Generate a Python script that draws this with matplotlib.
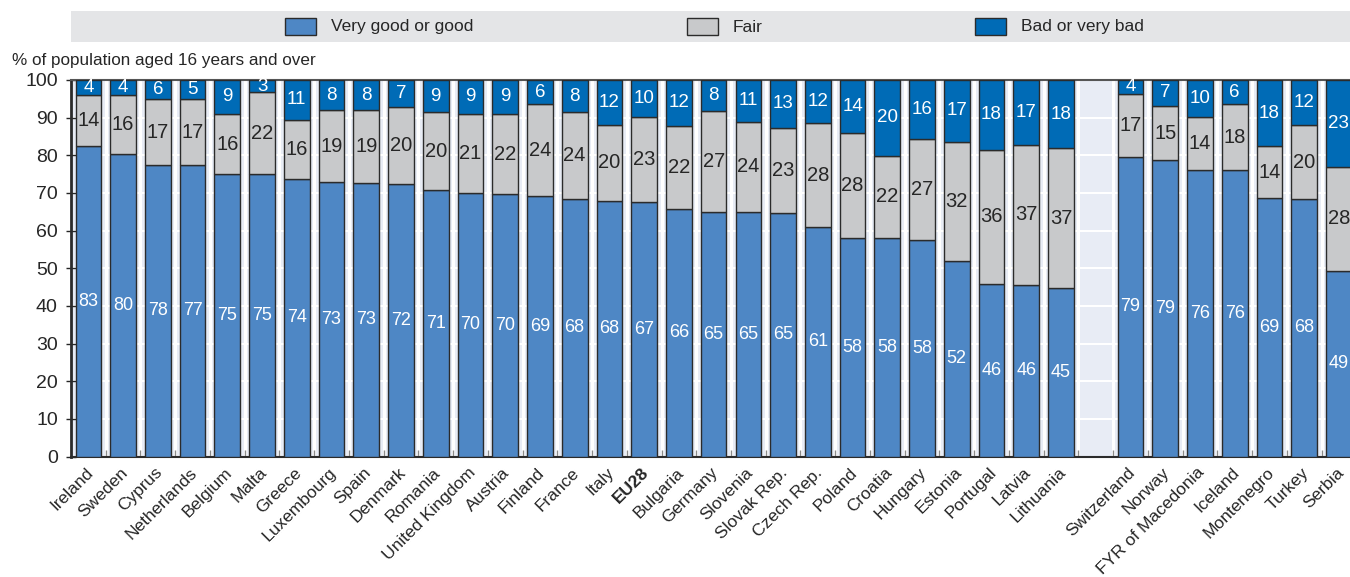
import matplotlib
matplotlib.use("Agg")
import matplotlib.pyplot as plt
import matplotlib.patches as mpatches
import matplotlib.transforms as mtrans
import numpy as np

plt.rcParams["font.family"] = ["Liberation Sans Narrow", "Liberation Sans", "DejaVu Sans"]

# ── data (shares, printed labels as shown) ──────────────────────────────────
countries_eu = ["Ireland", "Sweden", "Cyprus", "Netherlands", "Belgium", "Malta",
                "Greece", "Luxembourg", "Spain", "Denmark", "Romania",
                "United Kingdom", "Austria", "Finland", "France", "Italy", "EU28",
                "Bulgaria", "Germany", "Slovenia", "Slovak Rep.", "Czech Rep.",
                "Poland", "Croatia", "Hungary", "Estonia", "Portugal", "Latvia",
                "Lithuania"]
countries_other = ["Switzerland", "Norway", "FYR of Macedonia", "Iceland",
                   "Montenegro", "Turkey", "Serbia"]

good = [82.5, 80.4, 77.4, 77.4, 75.0, 75.0, 73.7, 72.9, 72.6, 72.5, 70.7, 70.0,
        69.6, 69.2, 68.3, 67.9, 67.5, 65.8, 65.0, 65.0, 64.7, 60.9, 58.0, 58.0,
        57.6, 51.9, 45.9, 45.6, 44.7,
        79.6, 78.7, 76.2, 76.2, 68.7, 68.3, 49.3]
fair = [13.4, 15.5, 17.5, 17.5, 16.0, 21.8, 15.7, 19.0, 19.3, 20.2, 20.7, 21.0,
        21.4, 24.3, 23.1, 20.2, 22.8, 22.0, 26.8, 23.9, 22.6, 27.7, 28.0, 21.9,
        26.8, 31.7, 35.6, 37.1, 37.2,
        16.8, 14.4, 14.0, 17.3, 13.7, 19.8, 27.6]
bad = [4.1, 4.1, 5.1, 5.1, 9.0, 3.2, 10.6, 8.1, 8.1, 7.3, 8.6, 9.0,
       9.0, 6.5, 8.6, 11.9, 9.7, 12.2, 8.2, 11.1, 12.7, 11.4, 14.0, 20.1,
       15.6, 16.4, 18.5, 17.3, 18.1,
       3.6, 6.9, 9.8, 6.5, 17.6, 11.9, 23.1]

good_lbl = [83, 80, 78, 77, 75, 75, 74, 73, 73, 72, 71, 70, 70, 69, 68, 68, 67,
            66, 65, 65, 65, 61, 58, 58, 58, 52, 46, 46, 45,
            79, 79, 76, 76, 69, 68, 49]
fair_lbl = [14, 16, 17, 17, 16, 22, 16, 19, 19, 20, 20, 21, 22, 24, 24, 20, 23,
            22, 27, 24, 23, 28, 28, 22, 27, 32, 36, 37, 37,
            17, 15, 14, 18, 14, 20, 28]
bad_lbl = [4, 4, 6, 5, 9, 3, 11, 8, 8, 7, 9, 9, 9, 6, 8, 12, 10,
           12, 8, 11, 13, 12, 14, 20, 16, 17, 18, 17, 18,
           4, 7, 10, 6, 18, 12, 23]

series_names = ["Very good or good", "Fair", "Bad or very bad"]
ylabel = "% of population aged 16 years and over"

# ── styling ──────────────────────────────────────────────────────────────────
C_GOOD = "#4e87c5"
C_FAIR = "#c8c9cb"
C_BAD = "#006bb6"
EDGE = "#2b2b2b"
BG = "#e8ecf5"
TXT = "#262626"

labels = countries_eu + countries_other
x = np.r_[np.arange(len(countries_eu)),
          np.arange(len(countries_other)) + len(countries_eu) + 1]
good = np.array(good); fair = np.array(fair); bad = np.array(bad)
w = 0.74

fig = plt.figure(figsize=(13.5, 5.77), dpi=100)
fig.patch.set_facecolor("white")
ax = fig.add_axes([71/1350, 1 - 456.5/577, 1279/1350, 376.5/577])
ax.set_facecolor(BG)

ax.bar(x, good, width=w, color=C_GOOD, edgecolor=EDGE, linewidth=1.0, zorder=3)
ax.bar(x, fair, width=w, bottom=good, color=C_FAIR, edgecolor=EDGE, linewidth=1.0, zorder=3)
ax.bar(x, bad, width=w, bottom=good + fair, color=C_BAD, edgecolor=EDGE, linewidth=1.0, zorder=3)

for xi, g, f, b, gl, fl, bl in zip(x, good, fair, bad, good_lbl, fair_lbl, bad_lbl):
    ax.text(xi, g / 2, str(gl), ha="center", va="center", color="white",
            fontsize=13, zorder=4)
    ax.text(xi, g + f / 2, str(fl), ha="center", va="center", color=TXT,
            fontsize=14.5, zorder=4)
    ax.text(xi, g + f + b / 2, str(bl), ha="center", va="center", color="white",
            fontsize=13.5, zorder=4)

ax.set_xlim(-0.5, 36.32)
ax.set_ylim(0, 100)
ax.set_yticks(np.arange(0, 101, 10))
ax.tick_params(axis="y", labelsize=14, colors=TXT, direction="inout",
               length=7, width=1.0, pad=6)
ax.set_xticks(x)
ax.set_xticklabels(labels, rotation=45, ha="right", va="top",
                   rotation_mode="anchor", fontsize=12.5, color=TXT)
ax.tick_params(axis="x", length=0, pad=6)
ax.set_xticks(np.arange(0.5, 36, 1), minor=True)
ax.tick_params(axis="x", which="minor", direction="in", length=5,
               color="#8a8a8a", width=1)
for t in ax.get_xticklabels():
    if t.get_text() == "EU28":
        t.set_fontweight("bold")
    t.set_transform(t.get_transform() + mtrans.ScaledTranslation(-3/100, 0, fig.dpi_scale_trans))

ax.set_axisbelow(True)
ax.grid(axis="y", which="major", color="white", linewidth=1.5)
ax.grid(axis="x", which="minor", color="white", linewidth=2.2)

ax.spines["right"].set_visible(False)
ax.spines["left"].set_color("#2b2b2b")
ax.spines["left"].set_linewidth(2.0)
ax.spines["bottom"].set_color("#2b2b2b")
ax.spines["bottom"].set_linewidth(1.5)
ax.spines["top"].set_color("#555555")
ax.spines["top"].set_linewidth(1.5)

fig.text(12/1350, 1 - 60/577, ylabel, ha="left", va="center",
         fontsize=12.3, color=TXT)

# ── legend band ──────────────────────────────────────────────────────────────
lax = fig.add_axes([71/1350, 1 - 42/577, 1279/1350, 31/577])
lax.set_xlim(71, 1350)
lax.set_ylim(0, 31)
lax.set_facecolor("#e4e5e7")
for s in lax.spines.values():
    s.set_visible(False)
lax.set_xticks([]); lax.set_yticks([])
leg_x = [285, 687, 975]
for lx, name, col in zip(leg_x, series_names, [C_GOOD, C_FAIR, C_BAD]):
    lax.add_patch(mpatches.Rectangle((lx, 7), 31, 17, facecolor=col,
                                     edgecolor=EDGE, linewidth=1.0))
    lax.text(lx + 46, 15, name, ha="left", va="center", fontsize=12.5, color=TXT)

fig.savefig("out.png", dpi=100, facecolor="white")
